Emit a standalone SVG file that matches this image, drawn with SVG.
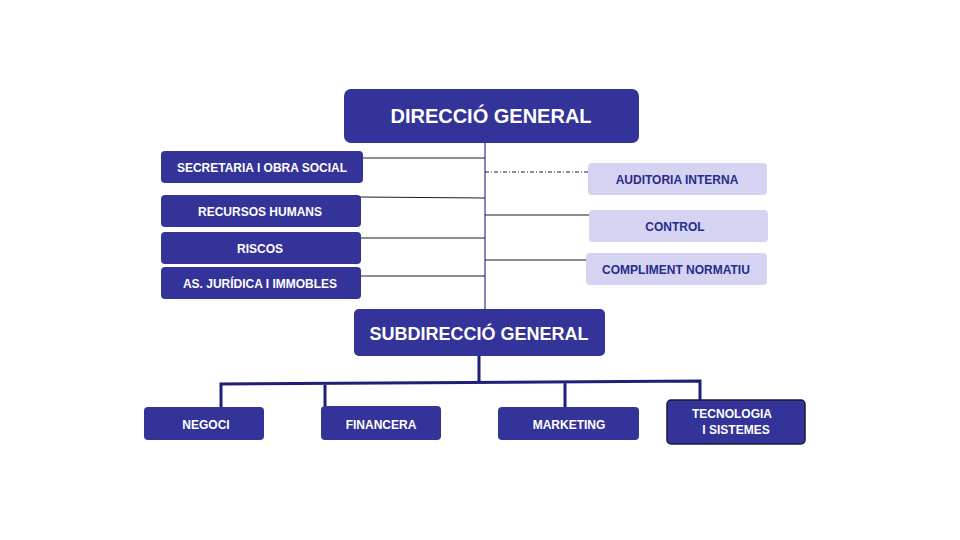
<svg xmlns="http://www.w3.org/2000/svg" width="960" height="540" viewBox="0 0 960 540">
<style>
.d{fill:#333399}
.l{fill:#d4d4f2}
.t{font-family:"Liberation Sans",Arial,sans-serif;font-weight:bold;fill:#fff;text-anchor:middle}
.tl{font-family:"Liberation Sans",Arial,sans-serif;font-weight:bold;fill:#2a2a8a;text-anchor:middle;font-size:12px}
.c{stroke:#1a1a2e;stroke-width:1;fill:none}
.b{stroke:#1f1f7a;stroke-width:3;fill:none}
</style>
<rect width="960" height="540" fill="#fff"/>
<g id="connectors">
<line x1="485" y1="142" x2="485" y2="310" stroke="#333399" stroke-width="1.2"/>
<line class="c" x1="362" y1="158" x2="485" y2="158"/>
<line class="c" x1="485" y1="172" x2="588" y2="172" stroke-dasharray="4,2,1,2"/>
<line class="c" x1="360" y1="197" x2="485" y2="198"/>
<line class="c" x1="485" y1="215" x2="590" y2="215"/>
<line class="c" x1="360" y1="238" x2="485" y2="238"/>
<line class="c" x1="485" y1="260" x2="587" y2="260"/>
<line class="c" x1="360" y1="276" x2="485" y2="276"/>
<path class="b" d="M479 356V381M221 408V384L700 381V400M325 406V383M565 407V382"/>
</g>
<g id="dg"><rect class="d" x="344" y="89" width="295" height="54" rx="7"/><text class="t" x="491" y="123" font-size="20">DIRECCIÓ  GENERAL</text></g>
<g id="sec"><rect class="d" x="161" y="151" width="202" height="32" rx="4"/><text class="t" x="262" y="172" font-size="12">SECRETARIA I OBRA SOCIAL</text></g>
<g id="rh"><rect class="d" x="161" y="195" width="200" height="32" rx="4"/><text class="t" x="260" y="216" font-size="12">RECURSOS  HUMANS</text></g>
<g id="ris"><rect class="d" x="161" y="232" width="200" height="32" rx="4"/><text class="t" x="260" y="253" font-size="12">RISCOS</text></g>
<g id="as"><rect class="d" x="161" y="267" width="200" height="32" rx="4"/><text class="t" x="260" y="288" font-size="12">AS. JURÍDICA  I IMMOBLES</text></g>
<g id="aud"><rect class="l" x="588" y="163" width="179" height="32" rx="4"/><text class="tl" x="677" y="184">AUDITORIA   INTERNA</text></g>
<g id="ctl"><rect class="l" x="589" y="210" width="179" height="32" rx="4"/><text class="tl" x="675" y="231">CONTROL</text></g>
<g id="cn"><rect class="l" x="586" y="253" width="181" height="32" rx="4"/><text class="tl" x="676" y="274">COMPLIMENT NORMATIU</text></g>
<g id="sg"><rect class="d" x="354" y="309" width="251" height="47" rx="5"/><text class="t" x="479" y="340" font-size="18">SUBDIRECCIÓ GENERAL</text></g>
<g id="neg"><rect class="d" x="144" y="407" width="120" height="33" rx="4"/><text class="t" x="206" y="429" font-size="12">NEGOCI</text></g>
<g id="fin"><rect class="d" x="321" y="406" width="120" height="34" rx="4"/><text class="t" x="381" y="429" font-size="12">FINANCERA</text></g>
<g id="mkt"><rect class="d" x="498" y="407" width="141" height="33" rx="4"/><text class="t" x="569" y="429" font-size="12">MARKETING</text></g>
<g id="tec"><rect class="d" x="667" y="400" width="138" height="44" rx="4" stroke="#1a1a3a" stroke-width="1.5"/><text class="t" x="732" y="418" font-size="12">TECNOLOGIA</text><text class="t" x="736" y="434" font-size="12">I SISTEMES</text></g>
</svg>
